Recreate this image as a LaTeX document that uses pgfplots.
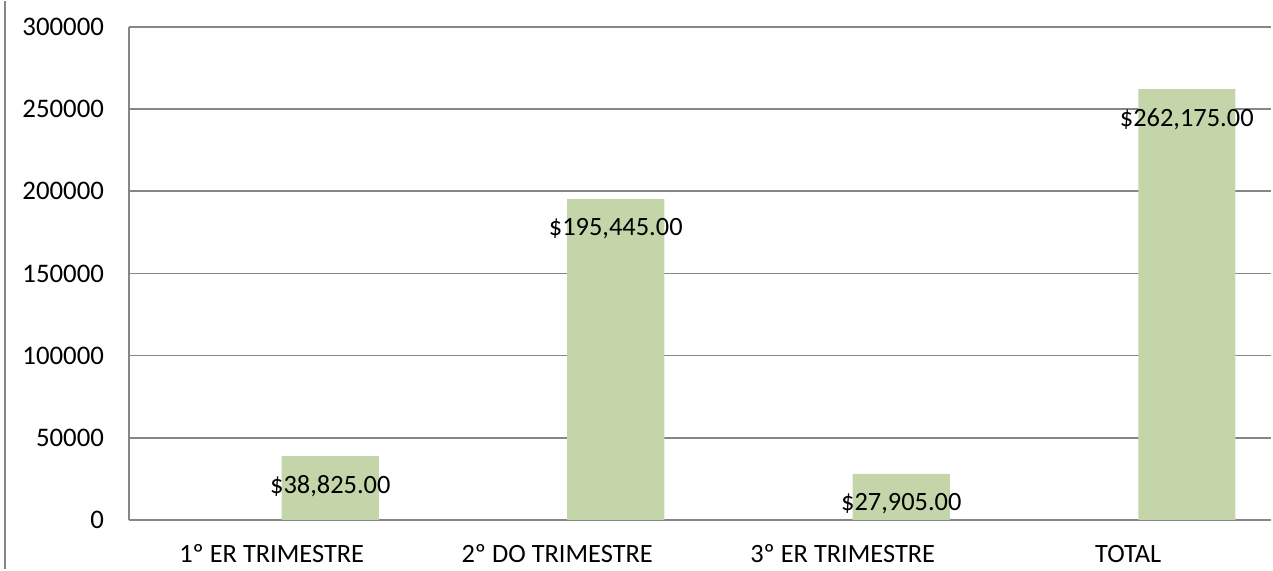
\documentclass[border=0pt]{standalone}
\usepackage{pgfplots}
\pgfplotsset{compat=1.18}
\usepackage{fontspec}
\setmainfont{Carlito}
\definecolor{barfill}{HTML}{C4D6A9}
\definecolor{gridgray}{HTML}{868686}

\begin{document}
\begin{tikzpicture}
\begin{axis}[
    at={(0,0)}, anchor=south west,
    scale only axis,
    width=571pt, height=246.4pt,
    xmin=-0.5, xmax=3.5,
    ymin=0, ymax=300000,
    axis x line=bottom, axis y line=left,
    axis line style={-, gridgray, line width=0.9pt},
    ytick={0,50000,...,300000},
    ymajorgrids,
    grid style={gridgray, line width=0.9pt},
    major tick length=0pt,
    xtick={0,1,2,3},
    xticklabels={1º ER TRIMESTRE, 2º DO TRIMESTRE, 3º ER TRIMESTRE, TOTAL},
    xticklabel style={font=\fontsize{13.2}{15}\selectfont, yshift=-9pt},
    yticklabel style={font=\fontsize{13.4}{15}\selectfont, xshift=-9pt},
    scaled y ticks=false,
    /pgf/number format/assume math mode=true,
    yticklabel={\pgfmathprintnumber[fixed, 1000 sep={}]{\tick}},
    ybar, bar width=0.34,
    nodes near coords,
    point meta=explicit symbolic,
    every node near coord/.append style={font=\fontsize{13.2}{15}\selectfont, anchor=center, yshift=-15pt, text=black},
]
\addplot[fill=barfill, draw=none] coordinates {
    (0.205,38825) [\$38,825.00]
    (1.205,195445) [\$195,445.00]
    (2.205,27905) [\$27,905.00]
    (3.205,262175) [\$262,175.00]
};
\end{axis}
\draw[gridgray, line width=1pt] (-62pt,-24.6pt) -- (-62pt,259.4pt);
\useasboundingbox (-64.5pt,-24.6pt) rectangle (572pt,259.4pt);
\end{tikzpicture}
\end{document}
